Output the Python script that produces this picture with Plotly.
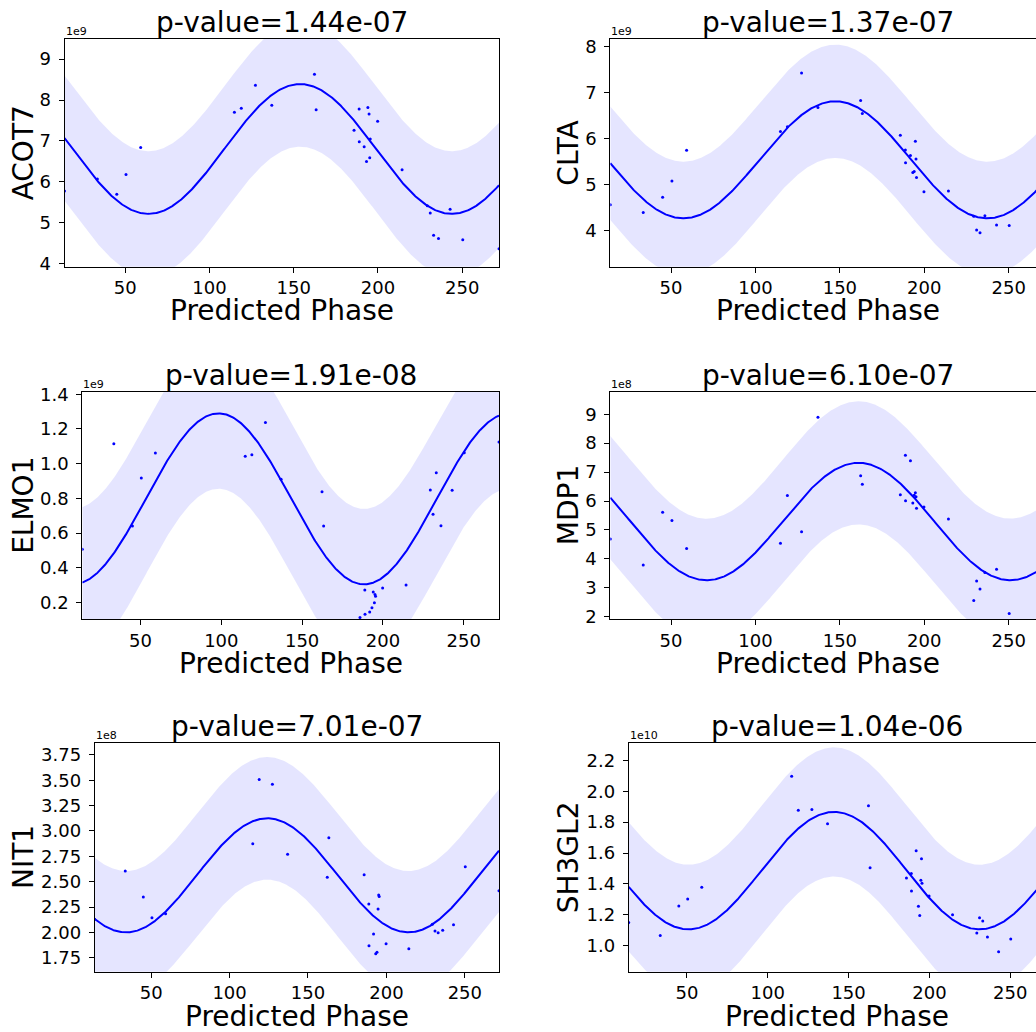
import numpy as np
import plotly.graph_objects as go

# ---------------- data ----------------
phase = [14.0, 33.5, 45.0, 50.5, 59.2, 114.8, 118.9, 127.3, 137.0, 162.3,
         163.3, 185.8, 188.8, 188.9, 191.8, 193.2, 194.0, 194.7, 195.1, 195.4,
         199.8, 214.3, 229.3, 231.0, 233.0, 235.9, 242.8, 250.3, 271.8]

genes = ["ACOT7", "CLTA", "ELMO1", "MDP1", "NIT1", "SH3GL2"]
p_values = ["1.44e-07", "1.37e-07", "1.91e-08", "6.10e-07", "7.01e-07", "1.04e-06"]
scale_labels = ["1e9", "1e9", "1e9", "1e8", "1e8", "1e10"]

acot7 = [5.78, 6.07, 5.70, 6.18, 6.84, 7.70, 7.80, 8.36, 7.87, 8.63,
         7.76, 7.26, 7.78, 6.98, 6.86, 6.50, 7.82, 7.66, 6.59, 7.05,
         7.48, 6.30, 5.42, 5.24, 4.70, 4.62, 5.33, 4.59, 4.37]
clta = [4.57, 4.40, 4.73, 5.085, 5.75, 6.16, 6.26, 7.43, 6.68, 6.83,
        6.55, 6.08, 5.76, 5.48, 5.64, 5.27, 5.29, 5.95, 5.56, 5.16,
        4.85, 4.87, 4.32, 4.02, 3.96, 4.33, 4.13, 4.12, 4.90]
elmo1 = [0.506, 1.115, 0.64, 0.917, 1.062, 1.042, 1.052, 1.237, 0.91, 0.838,
         0.64, 0.113, 0.271, 0.131, 0.144, 0.169, 0.26, 0.198, 0.245, 0.235,
         0.283, 0.30, 0.848, 0.708, 0.948, 0.642, 0.846, 1.063, 1.125]
mdp1 = [4.69, 3.79, 5.61, 5.33, 4.36, 4.54, 6.19, 4.94, 8.90, 6.87,
        6.58, 6.22, 7.58, 6.01, 7.39, 5.93, 6.20, 6.29, 6.15, 5.75,
        5.79, 5.38, 2.56, 3.23, 2.96, 3.53, 3.64, 2.11, 3.60]
nit1 = [2.13, 2.606, 2.349, 2.145, 2.184, 2.875, 3.507, 3.46, 2.77, 2.543,
        2.934, 2.569, 2.28, 1.868, 1.983, 1.79, 1.803, 2.23, 2.368, 2.355,
        1.888, 1.839, 2.08, 2.013, 1.997, 2.02, 2.076, 2.648, 2.41]
sh3gl2 = [1.151, 1.067, 1.257, 1.302, 1.378, 2.096, 1.876, 1.881, 1.79, 1.906,
          1.505, 1.438, 1.468, 1.354, 1.615, 1.255, 1.196, 1.423, 1.563, 1.404,
          1.322, 1.20, 1.082, 1.181, 1.16, 1.056, 0.961, 1.043, 1.40]
expression = [acot7, clta, elmo1, mdp1, nit1, sh3gl2]

# cosinor fit parameters
mesor = [6.805, 5.545, 0.797, 5.29, 2.5625, 1.486]
amplitude = [1.585, 1.27, 0.493, 2.03, 0.5625, 0.38]
acrophase = [153.8, 147.3, 98.3, 161.0, 124.0, 141.0]
band_half = [1.53, 1.23, 0.435, 2.13, 0.605, 0.418]
period = 180.0

x_ticks = [50, 100, 150, 200, 250]
y_ticks = [[4, 5, 6, 7, 8, 9], [4, 5, 6, 7, 8],
           [0.2, 0.4, 0.6, 0.8, 1.0, 1.2, 1.4], [2, 3, 4, 5, 6, 7, 8, 9],
           [1.75, 2.0, 2.25, 2.5, 2.75, 3.0, 3.25, 3.5, 3.75],
           [1.0, 1.2, 1.4, 1.6, 1.8, 2.0, 2.2]]
y_formats = ["d", "d", ".1f", "d", ".2f", ".1f"]

# ---------------- layout ----------------
W, H = 1036, 1032
y_ranges = [[3.93, 9.49], [3.225, 8.167], [0.104, 1.415],
            [1.92, 9.78], [1.612, 3.865], [0.832, 2.31]]
# axes boxes in pixels: left, right (full, may be off-page), top, bottom
boxes = [(64.5, 499, 39, 266.7), (610.3, 1045.5, 39, 266.7),
         (82.3, 499, 391.7, 619), (610.3, 1045.5, 391.7, 619),
         (94.7, 499, 743.3, 971.7), (628.7, 1045.5, 743.3, 971.7)]

FONT = "DejaVu Sans"
BLUE = "#0000ff"

fig = go.Figure()
annotations = []
x_lo, x_hi = min(phase), max(phase)
xs = np.linspace(x_lo, x_hi, 600)

for i, g in enumerate(genes):
    n = i + 1
    xa = "x" if n == 1 else f"x{n}"
    ya = "y" if n == 1 else f"y{n}"
    fit = mesor[i] + amplitude[i] * np.cos(2 * np.pi * (xs - acrophase[i]) / period)
    fig.add_trace(go.Scatter(x=xs, y=fit + band_half[i], mode="lines",
                             line=dict(width=0, color=BLUE), hoverinfo="skip",
                             showlegend=False, xaxis=xa, yaxis=ya))
    fig.add_trace(go.Scatter(x=xs, y=fit - band_half[i], mode="lines",
                             line=dict(width=0, color=BLUE), fill="tonexty",
                             fillcolor="rgba(0,0,255,0.1)", hoverinfo="skip",
                             showlegend=False, xaxis=xa, yaxis=ya))
    fig.add_trace(go.Scatter(x=phase, y=expression[i], mode="markers",
                             marker=dict(size=3, color=BLUE, line=dict(width=0)),
                             showlegend=False, xaxis=xa, yaxis=ya))
    fig.add_trace(go.Scatter(x=xs, y=fit, mode="lines",
                             line=dict(width=2, color=BLUE),
                             showlegend=False, xaxis=xa, yaxis=ya))

    left, right, top, bottom = boxes[i]
    vis_right = min(right, W)
    xr_hi = x_lo + (x_hi - x_lo) * (vis_right - left) / (right - left)
    right_col = (i % 2 == 1)
    axis_common = dict(showgrid=False, zeroline=False, showline=True,
                       linecolor="black", linewidth=1, ticks="outside",
                       ticklen=5, tickwidth=1, tickcolor="black", automargin=False,
                       tickfont=dict(family=FONT, size=18, color="black"))
    fig.update_layout(**{
        ("xaxis" if n == 1 else f"xaxis{n}"): dict(
            domain=[left / W, vis_right / W], range=[x_lo, xr_hi],
            anchor=ya, tickvals=x_ticks, mirror=True, **axis_common),
        ("yaxis" if n == 1 else f"yaxis{n}"): dict(
            domain=[1 - bottom / H, 1 - top / H], range=y_ranges[i],
            anchor=xa, tickvals=y_ticks[i], tickformat=y_formats[i],
            mirror=not right_col, ticklabelstandoff=4, **axis_common),
    })

    cx = (left + right) / 2
    # title
    annotations.append(dict(text=f"p-value={p_values[i]}", xref="paper", yref="paper",
                            x=cx / W, y=1 - top / H, xanchor="center", yanchor="bottom",
                            yshift=-1, showarrow=False, borderpad=0,
                            font=dict(family=FONT, size=28, color="black")))
    # x label
    annotations.append(dict(text="Predicted Phase", xref="paper", yref="paper",
                            x=cx / W, y=1 - (bottom + 52.8 - 26) / H,
                            xanchor="center", yanchor="top", showarrow=False,
                            borderpad=0,
                            font=dict(family=FONT, size=28, color="black")))
    # y label
    ylx = 23.5 if not right_col else 568.8
    annotations.append(dict(text=g, xref="paper", yref="paper",
                            x=ylx / W, y=1 - (top + bottom) / 2 / H,
                            xanchor="center", yanchor="middle", textangle=-90,
                            showarrow=False, borderpad=0,
                            font=dict(family=FONT, size=28, color="black")))
    # offset text
    annotations.append(dict(text=scale_labels[i], xref="paper", yref="paper",
                            x=left / W, y=1 - top / H, xanchor="left", yanchor="bottom",
                            showarrow=False, borderpad=0,
                            font=dict(family=FONT, size=11, color="black")))

fig.update_layout(width=W, height=H, margin=dict(l=0, r=0, t=0, b=0),
                  paper_bgcolor="white", plot_bgcolor="white",
                  annotations=annotations, showlegend=False)

fig.write_html("out.html")
